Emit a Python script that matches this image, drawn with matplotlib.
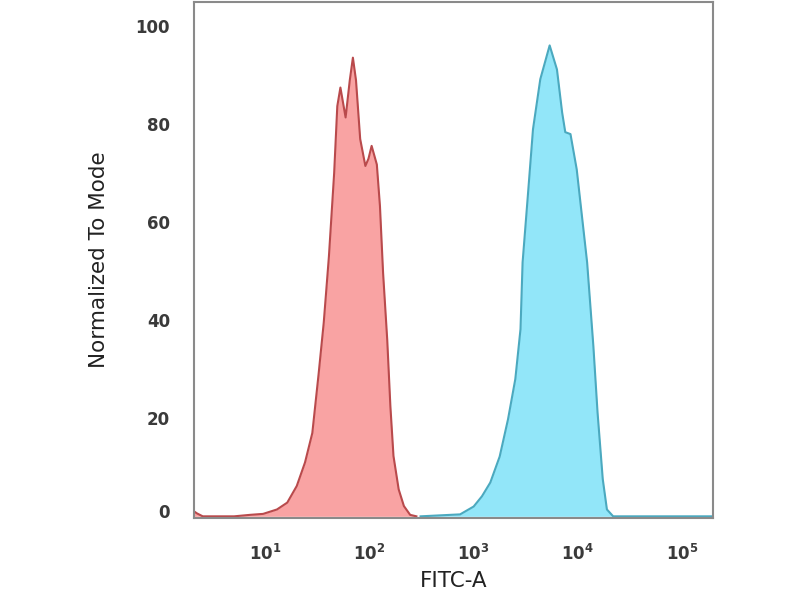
import numpy as np
import matplotlib
matplotlib.use("Agg")
import matplotlib.pyplot as plt
import matplotlib.transforms as mtransforms

# isotype control (red) - FITC intensity vs % of mode
ctrl_fitc = [2.0, 2.2, 2.5, 5.0, 7.1, 9.5, 12.9, 16.2, 20.0, 24.0, 28.2, 32.4,
             36.3, 40.7, 45.7, 49.0, 52.5, 58.9, 64.6, 69.2, 74.1, 81.3, 91.2,
             97.7, 104.7, 117.5, 125.9, 134.9, 147.9, 158.5, 169.8, 190.5,
             213.8, 245.5, 281.8]
ctrl_mode = [1.2, 0.6, 0.0, 0.0, 0.3, 0.5, 1.4, 2.8, 6.2, 11.0, 17.0, 29.0,
             39.5, 53.0, 70.0, 83.7, 87.5, 81.4, 89.0, 93.6, 89.0, 77.0, 71.5,
             73.0, 75.6, 71.8, 63.3, 49.7, 36.0, 22.5, 12.3, 5.5, 2.1, 0.3, 0.0]

# stained sample (blue)
stain_fitc = [309, 479, 741, 1000, 1202, 1445, 1778, 2138, 2512, 2818, 2951,
              3311, 3715, 4365, 5370, 6310, 7079, 7586, 8511, 9772, 12303,
              14125, 15488, 17378, 19055, 21878, 200000]
stain_mode = [0.0, 0.2, 0.4, 2.0, 4.1, 6.9, 12.2, 19.8, 28.0, 38.2, 51.8,
              65.3, 79.0, 89.2, 96.1, 91.2, 82.4, 78.4, 78.0, 70.8, 51.8,
              34.7, 21.2, 7.6, 1.4, 0.0, 0.0]

y_ticks = [0, 20, 40, 60, 80, 100]
x_ticks = [1e1, 1e2, 1e3, 1e4, 1e5]
x_ticklabels = ["$\\mathbf{10^{1}}$", "$\\mathbf{10^{2}}$",
                "$\\mathbf{10^{3}}$", "$\\mathbf{10^{4}}$",
                "$\\mathbf{10^{5}}$"]

fig = plt.figure(figsize=(8, 6), dpi=100)
ax = fig.add_axes([0.242, 0.137, 0.649, 0.86])

ax.fill_between(ctrl_fitc, ctrl_mode, 0, color="#f9a3a3", linewidth=0)
ax.plot(ctrl_fitc, ctrl_mode, color="#b94a4c", linewidth=1.5)
ax.fill_between(stain_fitc, stain_mode, 0, color="#92e6f9", linewidth=0)
ax.plot(stain_fitc, stain_mode, color="#4ba9bf", linewidth=1.5)

ax.set_xscale("log")
ax.set_xlim(10 ** 0.31, 10 ** 5.297)
ax.set_ylim(-0.3, 105)

ax.set_xticks(x_ticks)
ax.set_xticklabels(x_ticklabels)
ax.minorticks_off()
ax.set_yticks(y_ticks)
ax.tick_params(axis="both", length=0, labelsize=12, labelcolor="#3a3a3a")
ax.tick_params(axis="y", pad=17)
ax.tick_params(axis="x", pad=19)
for lab in ax.get_yticklabels():
    lab.set_fontweight("bold")

# FlowJo draws the 0 label a little above the baseline
lab0 = ax.get_yticklabels()[0]
lab0.set_transform(lab0.get_transform()
                   + mtransforms.ScaledTranslation(0, 5 / 100, fig.dpi_scale_trans))

for s in ax.spines.values():
    s.set_color("#8a8a8a")
    s.set_linewidth(1.5)

ax.set_ylabel("Normalized To Mode", fontsize=15.5, color="#222222", labelpad=19)
ax.set_xlabel("FITC-A", fontsize=15.5, color="#222222", labelpad=5)

fig.savefig("out.png", dpi=100)
